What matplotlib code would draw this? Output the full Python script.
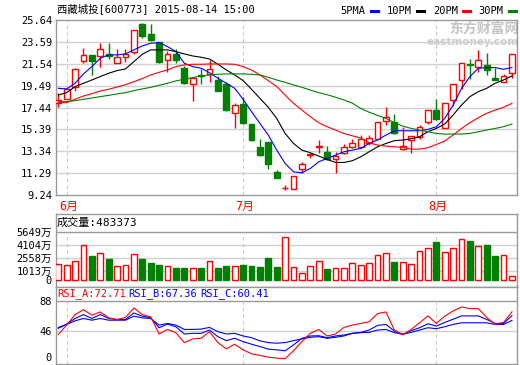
import matplotlib.pyplot as plt
from matplotlib.lines import Line2D
import numpy as np

plt.rcParams['font.family'] = ['DejaVu Sans Mono', 'Noto Sans CJK SC']

# ---- data ----
title = '西藏城投[600773] 2015-08-14 15:00'
month_idx = [1, 22, 45]
month_labels = ['6月', '7月', '8月']

opens = [17.89, 18.27, 19.40, 21.81, 22.37, 22.28, 22.46, 21.65, 22.18, 22.68,
         25.31, 24.37, 23.56, 21.90, 22.49, 21.18, 19.68, 20.49, 20.58, 20.02,
         19.61, 16.89, 17.77, 15.89, 13.76, 14.23, 11.41, 9.88, 9.80, 11.66,
         13.03, 13.76, 13.29, 12.57, 13.14, 13.70, 13.70, 14.07, 14.48, 16.20,
         16.08, 13.52, 14.39, 14.70, 16.11, 17.20, 15.55, 18.14, 20.02, 21.52,
         21.21, 21.43, 20.24, 19.87, 20.65]
highs = [18.83, 19.30, 21.18, 23.06, 22.37, 23.46, 23.53, 22.93, 22.93, 24.72,
         25.36, 25.22, 23.62, 22.71, 22.93, 21.37, 20.30, 21.05, 21.90, 20.40,
         19.80, 17.89, 18.46, 15.92, 14.45, 14.25, 11.56, 10.20, 11.01, 12.29,
         13.15, 14.42, 13.82, 13.29, 14.01, 14.48, 14.86, 14.86, 16.10, 17.52,
         16.83, 15.64, 14.80, 15.80, 17.20, 18.21, 17.85, 19.63, 21.65, 21.96,
         22.84, 22.53, 21.12, 20.59, 22.47]
lows = [17.52, 18.20, 19.02, 21.59, 20.49, 21.27, 21.99, 21.65, 21.71, 22.46,
        23.93, 23.71, 21.59, 20.77, 21.59, 19.62, 18.05, 19.62, 19.85, 19.00,
        17.15, 15.48, 15.90, 14.30, 12.90, 11.63, 10.85, 9.73, 9.78, 11.26,
        12.70, 13.22, 12.55, 11.32, 13.07, 13.68, 13.65, 13.92, 14.45, 15.80,
        15.00, 13.50, 13.14, 14.45, 15.89, 16.30, 15.50, 17.58, 19.18, 20.08,
        20.80, 20.49, 20.00, 19.85, 20.18]
closes = [18.14, 19.21, 21.05, 22.37, 21.81, 22.93, 22.31, 22.21, 22.49, 24.72,
          24.15, 23.81, 21.68, 22.49, 21.90, 19.71, 20.24, 20.40, 21.05, 19.02,
          17.17, 17.67, 15.95, 14.39, 12.95, 12.10, 10.88, 9.90, 11.01, 12.10,
          13.06, 13.79, 12.57, 12.88, 13.70, 14.14, 14.45, 14.54, 16.08, 16.58,
          15.02, 13.80, 14.79, 15.64, 17.20, 16.33, 17.83, 19.62, 21.65, 21.40,
          21.90, 20.96, 20.02, 20.43, 22.46]

ma5 = [19.24, 19.18, 19.71, 20.59, 21.27, 22.06, 22.37, 22.37, 22.46, 22.84,
       23.21, 23.46, 23.53, 23.15, 22.68, 21.59, 21.27, 21.12, 20.70, 20.18,
       19.71, 19.24, 18.21, 17.05, 15.95, 14.86, 13.45, 12.20, 11.41, 11.32,
       11.73, 12.35, 12.67, 12.98, 13.29, 13.45, 13.60, 14.07, 14.39, 14.86,
       15.26, 15.26, 15.26, 15.26, 15.39, 15.64, 16.42, 17.67, 19.24, 20.34,
       21.12, 21.18, 21.18, 21.02, 21.18]
ma10 = [18.61, 18.83, 19.40, 19.71, 20.02, 20.34, 20.65, 20.90, 21.05, 21.74,
        22.43, 22.84, 22.84, 22.84, 22.68, 22.46, 22.27, 22.15, 21.99, 21.49,
        20.96, 20.49, 19.96, 19.15, 18.30, 17.46, 16.42, 15.01, 14.07, 13.45,
        13.20, 12.89, 12.57, 12.29, 12.29, 12.45, 12.82, 13.29, 13.76, 14.07,
        14.33, 14.39, 14.51, 14.70, 15.17, 15.48, 15.89, 16.74, 17.67, 18.46,
        18.93, 19.24, 19.71, 20.02, 20.40]
ma20 = [17.89, 17.89, 18.21, 18.52, 18.74, 18.99, 19.15, 19.36, 19.58, 19.86,
        20.15, 20.49, 20.74, 20.96, 21.27, 21.43, 21.49, 21.49, 21.52, 21.52,
        21.52, 21.49, 21.27, 20.96, 20.49, 19.96, 19.40, 18.61, 17.83, 17.20,
        16.58, 16.02, 15.64, 15.33, 15.01, 14.79, 14.58, 14.14, 13.92, 13.82,
        13.76, 13.70, 13.54, 13.54, 13.67, 13.98, 14.29, 14.86, 15.48, 16.02,
        16.49, 16.89, 17.20, 17.46, 17.83]
ma30 = [17.99, 17.99, 18.08, 18.21, 18.33, 18.46, 18.58, 18.71, 18.83, 19.02,
        19.18, 19.33, 19.52, 19.71, 19.93, 20.09, 20.24, 20.40, 20.49, 20.55,
        20.59, 20.59, 20.59, 20.55, 20.49, 20.27, 20.02, 19.80, 19.55, 19.33,
        19.08, 18.83, 18.64, 18.40, 18.15, 17.85, 17.35, 17.00, 16.70, 16.42,
        16.02, 15.70, 15.48, 15.33, 15.17, 15.01, 14.95, 14.95, 14.95, 15.01,
        15.17, 15.33, 15.48, 15.64, 15.89]

volume = [1895, 1769, 2231, 4163, 2777, 3155, 2525, 1643, 1769, 3029,
          2525, 2021, 1811, 1643, 1433, 1433, 1391, 1433, 2231, 1433,
          1685, 1643, 1811, 1685, 1559, 2567, 1559, 5087, 1517, 767,
          1685, 2273, 1307, 1391, 1391, 2021, 1811, 2021, 2903, 3155,
          2063, 2147, 1895, 3407, 3785, 4457, 3239, 3785, 4793, 4583,
          4037, 4079, 2819, 2903, 483]
vol_label = '成交量:483373'

rsi_a = [40.7, 53.8, 68.8, 75.8, 67.9, 72.5, 64.1, 61.8, 64.6, 78.2,
         68.8, 65.5, 41.2, 47.7, 43.1, 29.0, 34.2, 35.1, 44.5, 29.0,
         20.1, 26.7, 18.7, 13.1, 10.8, 8.4, 7.0, 6.1, 17.3, 30.4,
         42.1, 47.7, 38.4, 41.2, 50.5, 53.8, 56.2, 58.5, 70.2, 72.5,
         46.8, 39.8, 47.7, 57.1, 66.9, 56.2, 66.5, 73.9, 79.6, 77.2,
         77.2, 64.6, 55.2, 57.6, 72.71]
rsi_b = [49.1, 55.2, 63.2, 68.8, 63.2, 68.8, 63.2, 61.8, 61.8, 71.1,
         66.5, 64.1, 50.1, 55.2, 51.5, 41.2, 42.1, 42.1, 46.8, 37.4,
         31.8, 35.1, 30.4, 26.7, 23.4, 19.7, 18.7, 17.3, 25.7, 35.1,
         38.4, 38.8, 36.0, 38.4, 39.8, 42.1, 43.5, 46.8, 53.4, 54.8,
         45.4, 40.7, 45.9, 50.1, 55.7, 52.4, 57.6, 62.2, 66.9, 66.9,
         66.9, 61.8, 56.2, 56.2, 67.36]
rsi_c = [50.5, 54.8, 59.9, 63.2, 60.8, 63.2, 60.8, 60.8, 60.8, 66.5,
         64.1, 63.2, 53.8, 56.2, 53.8, 47.7, 47.7, 48.2, 50.5, 44.5,
         41.2, 42.1, 38.4, 36.0, 31.4, 29.0, 28.1, 29.0, 31.8, 34.2,
         36.5, 37.4, 35.1, 36.5, 38.4, 42.1, 43.1, 43.5, 46.8, 47.7,
         43.1, 40.7, 43.5, 46.8, 50.1, 48.7, 51.5, 54.8, 57.1, 57.1,
         57.1, 57.1, 54.8, 54.8, 60.41]

price_ticks = [9.24, 11.29, 13.34, 15.39, 17.44, 19.49, 21.54, 23.59, 25.64]
vol_ticks = [0, 1013, 2558, 4104, 5649]
vol_tick_labels = ['0', '1013万', '2558万', '4104万', '5649万']
rsi_ticks = [0, 46, 88]

# ---- styling ----
RED, GREEN, BLUE = '#ff0000', '#008000', '#0000ff'
FRAME, GRID, DASH = '#999999', '#d0d0d0', '#c8c8c8'
FS = 7.5
W, H = 520, 365
L, R = 55.5, 517
XMIN, XMAX = -0.33, 54.6

fig = plt.figure(figsize=(W / 100, H / 100), dpi=100)


def panel(top, bottom):
    ax = fig.add_axes([L / W, 1 - bottom / H, (R - L) / W, (bottom - top) / H])
    ax.set_xlim(XMIN, XMAX)
    ax.set_xticks([])
    for s in ax.spines.values():
        s.set_color(FRAME)
        s.set_linewidth(1)
    ax.tick_params(axis='y', length=0, pad=2.5, labelsize=FS, colors='black')
    return ax


x = np.arange(len(closes))
o, h, l, c = map(np.array, (opens, highs, lows, closes))
up = c >= o
edge = np.where(up, RED, GREEN)
face = np.where(up, 'white', GREEN)

# ---- main price panel ----
ax = panel(20, 195)
ax.set_ylim(price_ticks[0], price_ticks[-1])
ax.set_yticks(price_ticks)
ax.set_yticklabels(['%.2f' % t for t in price_ticks])
for t in price_ticks[1:-1]:
    ax.axhline(t, color=GRID, lw=1, zorder=0.5)
for m in month_idx:
    ax.axvline(m, color=DASH, lw=0.8, ls=(0, (3, 3)), zorder=0.6)

ax.vlines(x, l, h, colors=edge, lw=1, zorder=3)
ax.bar(x, np.maximum(np.abs(c - o), 0.001), bottom=np.minimum(o, c), width=0.7,
       facecolor=face, edgecolor=edge, lw=1, zorder=4)

ax.plot(x, ma5, color=BLUE, lw=0.8, zorder=5)
ax.plot(x, ma10, color='black', lw=0.8, zorder=5)
ax.plot(x, ma20, color=RED, lw=0.8, zorder=5)
ax.plot(x, ma30, color=GREEN, lw=0.8, zorder=5)

for m, lab in zip(month_idx, month_labels):
    ax.text(m + 0.2, -11 / 175, lab, transform=ax.get_xaxis_transform(),
            ha='center', va='center', color=RED, fontsize=8.5)

# watermark
ax.text(519 / W, 1 - 29 / H, '东方财富网', transform=fig.transFigure, ha='right',
        va='center', color='#c4c4c4', fontsize=10, fontweight='bold',
        family='Noto Sans CJK SC', zorder=0.4)
ax.text(519 / W, 1 - 42 / H, 'eastmoney.com', transform=fig.transFigure, ha='right',
        va='center', color='#cccccc', fontsize=7.5, fontweight='bold',
        family='DejaVu Sans', zorder=0.4)

# title and legend
fig.text(57 / W, 1 - 10 / H, title, ha='left', va='center', fontsize=FS)
legend = [('5PMA', 340, BLUE, 371), ('10PM', 387, 'black', 417),
          ('20PM', 433, RED, 463), ('30PM', 478, GREEN, 509)]
for name, tx, col, lx in legend:
    fig.text(tx / W, 1 - 11 / H, name, ha='left', va='center', fontsize=FS)
    fig.add_artist(Line2D([lx / W, (lx + 7) / W], [1 - 11 / H, 1 - 11 / H],
                          color=col, lw=2.2, transform=fig.transFigure))

# ---- volume panel ----
vx = panel(214, 287)
vx.set_ylim(-824, 7767)
vx.set_yticks(vol_ticks)
vx.set_yticklabels(vol_tick_labels)
vx.axhline(5649, color=FRAME, lw=1, zorder=0.5)
for t in vol_ticks[1:-1]:
    vx.axhline(t, color=GRID, lw=1, zorder=0.5)
for m in month_idx:
    vx.plot([m, m], [0, 5649], color=DASH, lw=0.8, ls=(0, (3, 3)), zorder=0.6)
vx.bar(x, volume, width=0.7, facecolor=face, edgecolor=edge, lw=1, zorder=3)
fig.text(57 / W, 1 - 223 / H, vol_label, ha='left', va='center', fontsize=8)

# ---- RSI panel ----
rx = panel(287, 364)
rx.set_ylim(-1.4, 107.9)
rx.set_yticks(rsi_ticks)
rx.set_yticklabels([str(t) for t in rsi_ticks])
rx.get_yticklabels()[0].set_va('bottom')
rx.axhline(88, color=FRAME, lw=1, zorder=0.5)
rx.axhline(46, color=GRID, lw=1, zorder=0.5)
for m in month_idx:
    rx.plot([m, m], [-1.4, 88], color=DASH, lw=0.8, ls=(0, (3, 3)), zorder=0.6)
rx.plot(x, rsi_c, color=BLUE, lw=0.8, zorder=3)
rx.plot(x, rsi_b, color=BLUE, lw=0.8, zorder=3)
rx.plot(x, rsi_a, color=RED, lw=0.8, zorder=4)
for txt, tx, col in [('RSI_A:%.2f' % rsi_a[-1], 57, RED),
                     ('RSI_B:%.2f' % rsi_b[-1], 128, BLUE),
                     ('RSI_C:%.2f' % rsi_c[-1], 200, BLUE)]:
    fig.text(tx / W, 1 - 294 / H, txt, ha='left', va='center', fontsize=FS, color=col)

fig.savefig('out.png', dpi=100)
